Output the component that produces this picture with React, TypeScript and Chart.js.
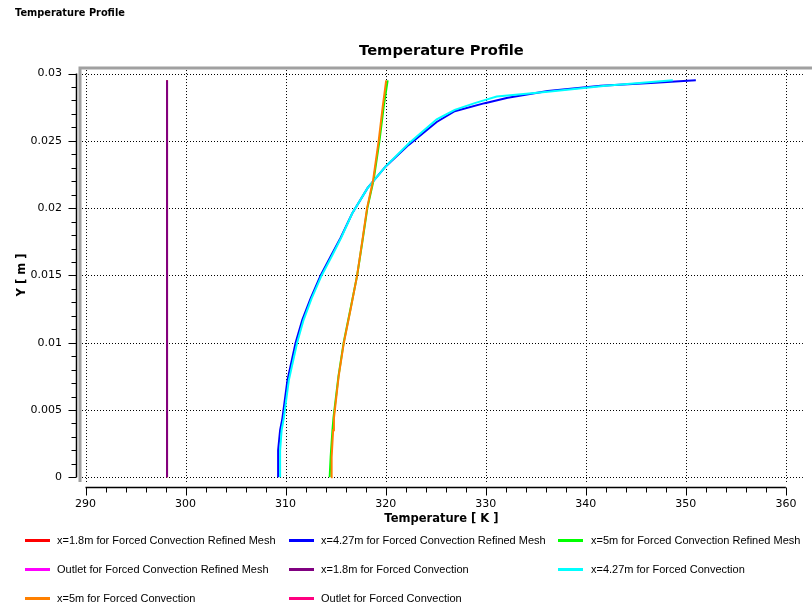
import React, { useEffect, useRef } from 'react';
import { Chart, registerables } from 'chart.js';

Chart.register(...registerables);

// ---------- Data ----------
const seriesNames = [
  'x=1.8m for Forced Convection Refined Mesh',
  'x=4.27m for Forced Convection Refined Mesh',
  'x=5m for Forced Convection Refined Mesh',
  'Outlet for Forced Convection Refined Mesh',
  'x=1.8m for Forced Convection',
  'x=4.27m for Forced Convection',
  'x=5m for Forced Convection',
  'Outlet for Forced Convection',
];
const seriesColors = ['#ff0000', '#0000ff', '#00ff00', '#ff00ff', '#800080', '#00ffff', '#ff8000', '#ff0080'];

const y18Refined = [0, 0.0295];
const t18Refined = [298.15, 298.15];

const y427Refined = [0, 0.002, 0.0035, 0.0044, 0.0072, 0.01, 0.0117, 0.0133, 0.015, 0.0164, 0.0178, 0.0196, 0.0215, 0.0231, 0.0247, 0.0264, 0.0272, 0.0278, 0.0282, 0.0287, 0.0291, 0.0293, 0.0295];
const t427Refined = [309.25, 309.25, 309.45, 309.68, 310.18, 311.0, 311.67, 312.5, 313.5, 314.5, 315.5, 316.65, 318.2, 320.0, 322.3, 325.1, 326.9, 329.9, 332.2, 336.2, 341.5, 346.5, 351.0];

const y5Refined = [0, 0.0015, 0.0035, 0.0044, 0.0075, 0.01, 0.0125, 0.015, 0.0175, 0.02, 0.0221, 0.025, 0.0275, 0.0295];
const t5Refined = [314.4, 314.5, 314.68, 314.78, 315.28, 315.8, 316.48, 317.15, 317.67, 318.17, 318.8, 319.38, 319.8, 320.2];

const yOutletRefined: number[] = [];
const tOutletRefined: number[] = [];

const y18Forced = [0, 0.0295];
const t18Forced = [298.15, 298.15];

const y427Forced = [0, 0.002, 0.0035, 0.0044, 0.0072, 0.01, 0.0117, 0.0133, 0.015, 0.0164, 0.0178, 0.0196, 0.0215, 0.0231, 0.0248, 0.0266, 0.0273, 0.0278, 0.0283, 0.02865, 0.0291, 0.0295];
const t427Forced = [309.45, 309.45, 309.6, 309.82, 310.32, 311.15, 311.8, 312.6, 313.6, 314.6, 315.55, 316.65, 318.2, 320.0, 322.3, 325.1, 326.9, 328.9, 331.1, 336.2, 342.0, 348.7];

const y5Forced = [0, 0.0015, 0.0035, 0.0044, 0.0075, 0.01, 0.0125, 0.015, 0.0175, 0.02, 0.0221, 0.025, 0.0275, 0.0295];
const t5Forced = [314.55, 314.6, 314.75, 314.83, 315.3, 315.82, 316.5, 317.15, 317.65, 318.14, 318.75, 319.3, 319.7, 320.05];

const yOutletForced: number[] = [];
const tOutletForced: number[] = [];

const seriesY = [y18Refined, y427Refined, y5Refined, yOutletRefined, y18Forced, y427Forced, y5Forced, yOutletForced];
const seriesT = [t18Refined, t427Refined, t5Refined, tOutletRefined, t18Forced, t427Forced, t5Forced, tOutletForced];

const xMin = 289.45;
const xMax = 361.7;
const xStep = 10;
const yMin = -0.000349;
const yMax = 0.030409;
const yStep = 0.005;

const titleText = 'Temperature Profile';
const xTitle = 'Temperature [ K ]';
const yTitle = 'Y [ m ]';

// ---------- Plugin for axes decoration ----------
const axisPlugin = {
  id: 'axisDecor',
  beforeDatasetsDraw(chart: any) {
    const { ctx, chartArea } = chart;
    const xs = chart.scales.x;
    const ys = chart.scales.y;
    ctx.save();
    ctx.strokeStyle = '#000';
    ctx.lineWidth = 1;
    ctx.setLineDash([1, 2]);
    ctx.beginPath();
    xs.ticks.forEach((t: any) => {
      const p = Math.round(xs.getPixelForValue(t.value)) + 0.5;
      ctx.moveTo(p, chartArea.top + 2);
      ctx.lineTo(p, chartArea.bottom);
    });
    ys.ticks.forEach((t: any) => {
      const p = Math.round(ys.getPixelForValue(t.value)) + 0.5;
      ctx.moveTo(chartArea.left + 2, p);
      ctx.lineTo(chartArea.right, p);
    });
    ctx.stroke();
    ctx.restore();
  },
  afterDraw(chart: any) {
    const { ctx, chartArea, width } = chart;
    const xs = chart.scales.x;
    const ys = chart.scales.y;
    ctx.save();
    ctx.setLineDash([]);
    // gray frame
    ctx.strokeStyle = '#a0a0a0';
    ctx.lineWidth = 3;
    ctx.beginPath();
    ctx.moveTo(chartArea.left - 1.5, chartArea.top);
    ctx.lineTo(width, chartArea.top);
    ctx.moveTo(chartArea.left, chartArea.top);
    ctx.lineTo(chartArea.left, chartArea.bottom);
    ctx.stroke();

    ctx.strokeStyle = '#000';
    // x axis
    const xv: number[] = xs.ticks.map((t: any) => Number(t.value));
    const axY = Math.round(chartArea.bottom + 5) + 0.5;
    ctx.lineWidth = 1.5;
    ctx.beginPath();
    ctx.moveTo(xs.getPixelForValue(xv[0]), axY);
    ctx.lineTo(xs.getPixelForValue(xv[xv.length - 1]), axY);
    ctx.stroke();
    ctx.lineWidth = 1;
    ctx.beginPath();
    for (let i = 0; i < xv.length; i++) {
      const p = Math.round(xs.getPixelForValue(xv[i])) + 0.5;
      ctx.moveTo(p, axY);
      ctx.lineTo(p, axY + 8);
      if (i < xv.length - 1) {
        for (let k = 1; k < 5; k++) {
          const q = Math.round(xs.getPixelForValue(xv[i] + ((xv[i + 1] - xv[i]) * k) / 5)) + 0.5;
          ctx.moveTo(q, axY);
          ctx.lineTo(q, axY + 5);
        }
      }
    }
    ctx.stroke();
    // y axis
    const yv: number[] = ys.ticks.map((t: any) => Number(t.value));
    const axX = Math.round(chartArea.left - 4) + 0.5;
    ctx.lineWidth = 1.5;
    ctx.beginPath();
    ctx.moveTo(axX, ys.getPixelForValue(yv[0]));
    ctx.lineTo(axX, ys.getPixelForValue(yv[yv.length - 1]));
    ctx.stroke();
    ctx.lineWidth = 1;
    ctx.beginPath();
    for (let i = 0; i < yv.length; i++) {
      const p = Math.round(ys.getPixelForValue(yv[i])) + 0.5;
      ctx.moveTo(axX, p);
      ctx.lineTo(axX - 8, p);
      if (i < yv.length - 1) {
        for (let k = 1; k < 5; k++) {
          const q = Math.round(ys.getPixelForValue(yv[i] + ((yv[i + 1] - yv[i]) * k) / 5)) + 0.5;
          ctx.moveTo(axX, q);
          ctx.lineTo(axX - 5, q);
        }
      }
    }
    ctx.stroke();
    ctx.restore();
  },
};

const legendCols = [
  { swatch: 25, text: 57 },
  { swatch: 289, text: 321 },
  { swatch: 558, text: 591 },
];
const legendRows = [540, 569, 598];

export default function App() {
  const canvasRef = useRef<HTMLCanvasElement | null>(null);

  useEffect(() => {
    document.body.style.margin = '0';
    const canvas = canvasRef.current;
    if (!canvas) return;
    const tickFont = { family: 'DejaVu Sans', size: 11 };
    const titleFont = { family: 'DejaVu Sans', size: 11.5, weight: 'bold' as const };
    const datasets = seriesNames.map((name, i) => ({
      label: name,
      data: seriesT[i].map((t, j) => ({ x: t, y: seriesY[i][j] })),
      borderColor: seriesColors[i],
      backgroundColor: seriesColors[i],
      borderWidth: 2,
      showLine: true,
      pointRadius: 0,
      tension: 0,
      order: 7 - i,
    }));
    const chart = new Chart(canvas, {
      type: 'scatter',
      data: { datasets },
      plugins: [axisPlugin],
      options: {
        responsive: false,
        animation: false,
        devicePixelRatio: 1,
        layout: { padding: { left: 0, right: 6, top: 0, bottom: 83 } },
        plugins: {
          legend: { display: false },
          tooltip: { enabled: false },
          title: {
            display: true,
            text: titleText,
            fullSize: false,
            color: '#000',
            font: { family: 'DejaVu Sans', size: 14.7, weight: 'bold' },
            padding: { top: 42.6, bottom: 7.8 },
          },
        },
        scales: {
          x: {
            type: 'linear',
            min: xMin,
            max: xMax,
            afterFit: (s: any) => {
              s.height = 48;
            },
            grid: { display: false, drawTicks: false },
            border: { display: false },
            ticks: {
              stepSize: xStep,
              includeBounds: false,
              padding: 15.4,
              color: '#000',
              font: tickFont,
              maxRotation: 0,
              autoSkip: false,
            },
            title: { display: true, text: xTitle, color: '#000', font: titleFont, padding: { top: 0, bottom: 4 } },
          },
          y: {
            type: 'linear',
            min: yMin,
            max: yMax,
            afterFit: (s: any) => {
              s.width = 80;
            },
            grid: { display: false, drawTicks: false },
            border: { display: false },
            ticks: {
              stepSize: yStep,
              includeBounds: false,
              padding: 18,
              color: '#000',
              font: tickFont,
              autoSkip: false,
              callback: (v: any) => parseFloat(Number(v).toFixed(4)).toString(),
            },
            title: { display: true, text: yTitle, color: '#000', font: titleFont, padding: { top: 15, bottom: 0 } },
          },
        },
      } as any,
    });
    return () => chart.destroy();
  }, []);

  return (
    <div style={{ position: 'relative', width: 812, height: 613, background: '#fff', overflow: 'hidden' }}>
      <canvas ref={canvasRef} width={812} height={613} style={{ position: 'absolute', left: 0, top: 0 }} />
      <div
        style={{
          position: 'absolute',
          left: 15,
          top: 7,
          fontFamily: 'DejaVu Sans',
          fontWeight: 'bold',
          fontSize: 9.8,
          color: '#000',
          whiteSpace: 'nowrap',
        }}
      >
        {titleText}
      </div>
      {seriesNames.map((name, i) => {
        const col = legendCols[i % 3];
        const rowY = legendRows[Math.floor(i / 3)];
        return (
          <React.Fragment key={name}>
            <div
              style={{
                position: 'absolute',
                left: col.swatch,
                top: rowY - 1.5,
                width: 25,
                height: 3,
                background: seriesColors[i],
              }}
            />
            <div
              style={{
                position: 'absolute',
                left: col.text,
                top: rowY - 7,
                height: 14,
                lineHeight: '14px',
                fontFamily: 'Liberation Sans',
                fontSize: 11,
                color: '#000',
                whiteSpace: 'nowrap',
              }}
            >
              {name}
            </div>
          </React.Fragment>
        );
      })}
    </div>
  );
}
